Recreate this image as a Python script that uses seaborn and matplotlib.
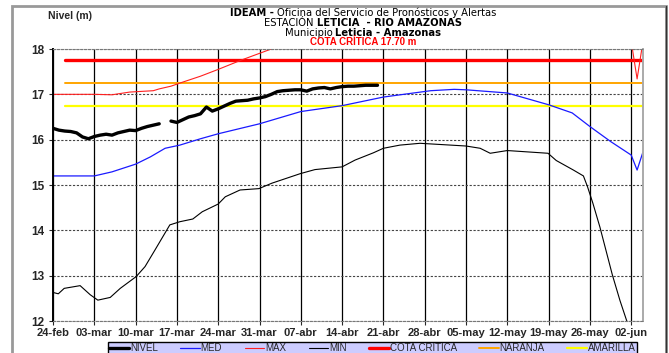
import matplotlib
matplotlib.use("Agg")
import numpy as np
import pandas as pd
import matplotlib.pyplot as plt
import seaborn as sns
from matplotlib.patches import Rectangle

sns.set_style("ticks")
plt.rcParams["font.family"] = ["Liberation Sans", "DejaVu Sans"]

# days counted from 24-feb-2012
tick_labels = ["24-feb", "03-mar", "10-mar", "17-mar", "24-mar", "31-mar", "07-abr",
               "14-abr", "21-abr", "28-abr", "05-may", "12-may", "19-may", "26-may", "02-jun"]
tick_days = list(range(0, 99, 7))

nivel_days = list(range(0, 56))
nivel = [16.25, 16.21, 16.19, 16.18, 16.15, 16.06, 16.02, 16.07, 16.10, 16.12,
         16.10, 16.15, 16.18, 16.21, 16.20, 16.25, 16.29, 16.32, 16.35, np.nan,
         16.41, 16.38, 16.44, 16.50, 16.53, 16.57, 16.72, 16.63, 16.68, 16.74,
         16.80, 16.85, 16.86, 16.87, 16.90, 16.92, 16.95, 17.00, 17.06, 17.08,
         17.09, 17.10, 17.10, 17.07, 17.12, 17.14, 17.15, 17.12, 17.15, 17.17,
         17.18, 17.18, 17.19, 17.20, 17.20, 17.20]

med_days = [0, 7, 10, 14, 16.5, 19, 21.5, 25, 28, 35, 42, 49, 56, 64, 68, 70, 77,
            84, 86, 88, 91, 94.5, 98, 99, 100]
med = [15.20, 15.20, 15.29, 15.46, 15.62, 15.81, 15.88, 16.02, 16.13, 16.35, 16.62,
       16.75, 16.94, 17.08, 17.11, 17.10, 17.03, 16.77, 16.68, 16.59, 16.29, 15.96,
       15.66, 15.33, 15.73]

max_days = [0, 7, 10, 13, 17, 18, 20, 22, 25, 28, 32, 37, 45, 70, 90, 97, 98, 99, 100]
max_vals = [17.00, 17.00, 16.99, 17.05, 17.08, 17.12, 17.18, 17.27, 17.40, 17.55,
            17.76, 18.00, 18.30, 18.50, 18.40, 18.30, 18.17, 17.34, 18.17]

min_days = [0, 0.9, 1.9, 4.6, 6.3, 7.6, 9.7, 11.4, 14.1, 15.6, 17.3, 19.8, 21.5, 23.7,
            25.3, 28, 29.2, 31.7, 34.9, 37.1, 41.9, 44.4, 49, 51.2, 54.3, 56, 58.8,
            62.2, 70, 72.4, 74.1, 77, 83.9, 85.3, 88.2, 89.9, 90.6, 91.5, 92.7, 94.8,
            96.1, 97.2, 98.5]
min_vals = [12.63, 12.60, 12.72, 12.78, 12.58, 12.46, 12.52, 12.72, 12.98, 13.20,
            13.57, 14.12, 14.19, 14.25, 14.41, 14.58, 14.74, 14.89, 14.92, 15.04,
            15.25, 15.34, 15.40, 15.55, 15.71, 15.81, 15.88, 15.92, 15.86, 15.81,
            15.70, 15.76, 15.70, 15.54, 15.33, 15.20, 14.96, 14.60, 14.07, 13.02,
            12.45, 12.02, 11.60]

umbral_days = [2, 100]
cota_critica = 17.75
naranja = 17.25
amarilla = 16.75

fig = plt.figure(figsize=(6.69, 3.53), dpi=100)
ax = fig.add_axes([53 / 669, 1 - 321 / 353, (643 - 53) / 669, (321 - 49) / 353])

sns.lineplot(x=umbral_days, y=[amarilla] * 2, ax=ax, color="#ffff00", lw=1.6, label="AMARILLA")
sns.lineplot(x=umbral_days, y=[naranja] * 2, ax=ax, color="#ffa500", lw=1.4, label="NARANJA")
sns.lineplot(x=umbral_days, y=[cota_critica] * 2, ax=ax, color="#ff0000", lw=2.4, label="COTA CRITICA")
sns.lineplot(x=min_days, y=min_vals, ax=ax, color="black", lw=0.8, label="MIN")
sns.lineplot(x=med_days, y=med, ax=ax, color="#1a1aff", lw=0.9, label="MED")
sns.lineplot(x=max_days, y=max_vals, ax=ax, color="#ff2020", lw=0.8, label="MAX")

df_nivel = pd.DataFrame({"dia": nivel_days, "nivel": nivel})
gap = df_nivel["nivel"].isna().idxmax()
sns.lineplot(data=df_nivel.iloc[:gap], x="dia", y="nivel", ax=ax, color="black", lw=2.4, label="NIVEL")
sns.lineplot(data=df_nivel.iloc[gap + 1:], x="dia", y="nivel", ax=ax, color="black", lw=2.4)

ax.set_xlim(0, 100)
ax.set_ylim(12, 18)
ax.set_xticks(tick_days)
ax.set_xticklabels(tick_labels, fontsize=8, fontweight="bold")
ax.set_yticks(range(12, 19))
ax.set_yticklabels([str(v) for v in range(12, 19)], fontsize=8.5, fontweight="bold")
ax.set_xlabel("")
ax.set_ylabel("")
ax.tick_params(axis="x", length=3, width=0.8, pad=2)
ax.tick_params(axis="y", length=3, width=0.8, pad=3)
ax.xaxis.grid(True, color="black", lw=0.9)
ax.yaxis.grid(True, color="#444444", lw=0.8, linestyle=(0, (2, 1.5)))
ax.set_axisbelow(True)
ax.spines["left"].set_color("black")
ax.spines["left"].set_linewidth(1.4)
ax.spines["right"].set_color("#aaaaaa")
ax.spines["right"].set_linewidth(1.4)
ax.spines["top"].set_visible(True)
ax.spines["top"].set_color("#777777")
ax.spines["top"].set_linestyle((0, (2, 1.5)))
ax.spines["bottom"].set_color("#777777")
ax.spines["bottom"].set_linestyle((0, (2, 1.5)))

# legend below the plot
handles, labels = ax.get_legend_handles_labels()
ax.get_legend().remove()
order = ["NIVEL", "MED", "MAX", "MIN", "COTA CRITICA", "NARANJA", "AMARILLA"]
hmap = dict(zip(labels, handles))
leg = fig.legend([hmap[k] for k in order], order, loc="upper left",
                 bbox_to_anchor=(108 / 669, 0, 529 / 669, 1 - 342 / 353), mode="expand",
                 ncol=7, fontsize=7, frameon=True, fancybox=False, borderaxespad=0,
                 handlelength=2.0, handletextpad=0.1, borderpad=0.15, columnspacing=1.0)
leg.get_frame().set_facecolor("#ccccff")
leg.get_frame().set_edgecolor("black")
leg.get_frame().set_linewidth(1.0)
leg.get_frame().set_alpha(1)

# outer border
fig.patches.append(Rectangle((12 / 669, -0.2), (666 - 12) / 669, 1.2 - 6 / 353,
                             transform=fig.transFigure, fill=False,
                             edgecolor="#999999", lw=2))
fig.add_artist(plt.Line2D([666 / 669, 666 / 669], [0, 1 - 6 / 353],
                          transform=fig.transFigure, color="#333333", lw=1))

# titles
renderer = fig.canvas.get_renderer()


def mixed_text(y_px, parts, cx_px, size, color="black", family="Liberation Sans"):
    items = [fig.text(0, 1 - y_px / 353, s, fontsize=size, fontweight=w, family=family,
                      color=color, va="center", ha="left") for s, w in parts]
    widths = [t.get_window_extent(renderer).width for t in items]
    space = size * 1.389 * 0.3
    total = sum(widths) + space * (len(items) - 1)
    x = cx_px - total / 2
    for t, w in zip(items, widths):
        t.set_x(x / 669)
        x += w + space


mixed_text(12.5, [("IDEAM -", "bold"), ("Oficina del Servicio de Pronósticos y Alertas", "normal")],
           363, 7.2, family="DejaVu Sans")
mixed_text(22.5, [("ESTACIÓN", "normal"), ("LETICIA  - RIO AMAZONAS", "bold")],
           363, 7.2, family="DejaVu Sans")
mixed_text(32.5, [("Municipio", "normal"), ("Leticia - Amazonas", "bold")],
           363, 7.2, family="DejaVu Sans")
mixed_text(42, [("COTA CRÍTICA 17.70 m", "bold")], 363, 7, color="red")
fig.text(48 / 669, 1 - 16 / 353, "Nivel (m)", fontsize=7.5, fontweight="bold",
         va="center", ha="left")

fig.savefig("out.png", dpi=100)
